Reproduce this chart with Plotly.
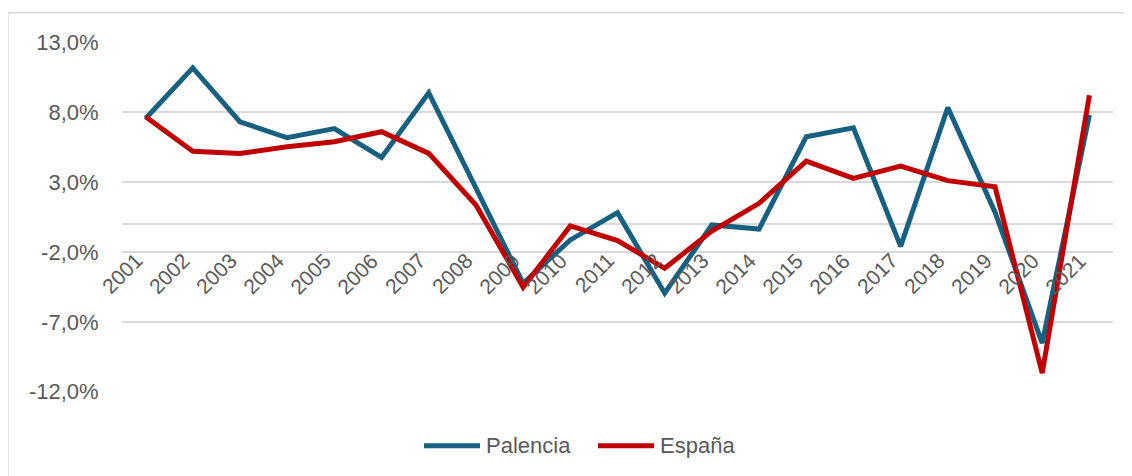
import plotly.graph_objects as go

years = [str(y) for y in range(2001, 2022)]
palencia = [7.55, 11.17, 7.31, 6.17, 6.83, 4.76, 9.38, 2.5, -4.24, -1.14, 0.81, -4.95,
            -0.07, -0.36, 6.24, 6.88, -1.6, 8.33, 0.85, -8.52, 7.79]
espana = [7.67, 5.21, 5.05, 5.52, 5.88, 6.6, 5.05, 1.36, -4.52, -0.14, -1.19, -3.17,
          -0.5, 1.48, 4.5, 3.26, 4.14, 3.1, 2.67, -10.67, 9.21]
y_ticks = [-12, -7, -2, 3, 8, 13]
y_ticktext = ["-12,0%", "-7,0%", "-2,0%", "3,0%", "8,0%", "13,0%"]
series_names = ["Palencia", "España"]
series_colors = ["#17607f", "#c00000"]

FONT = "Liberation Sans"
GREY = "#595959"
GRID = "#d9d9d9"

# page body has an 8px margin; figure is laid out in its own coordinates
L, T, PW, PH = 114, 34, 991, 350
W, H = 1124, 468


def px_x(p):
    return (p - L) / PW


def px_y(p):
    return (T + PH - p) / PH


fig = go.Figure()
for name, vals, col in zip(series_names, [palencia, espana], series_colors):
    fig.add_trace(go.Scatter(x=years, y=vals, name=name, mode="lines",
                             line=dict(color=col, width=5), showlegend=False))

for i, yr in enumerate(years):
    fig.add_annotation(x=i, y=0, xref="x", yref="y", text=yr, showarrow=False,
                       textangle=-45, xanchor="right", yanchor="top",
                       xshift=4, yshift=-22,
                       font=dict(family=FONT, size=21, color=GREY))

# chart area border
fig.add_shape(type="rect", xref="paper", yref="paper",
              x0=px_x(0), x1=px_x(1200), y0=px_y(600), y1=px_y(4.7),
              line=dict(color=GRID, width=1.5), layer="below")

# manual legend
leg_y = px_y(437.7)
leg_items = [(416, 472, 476), (590, 646, 650)]
for (x0, x1, tx), name, col in zip(leg_items, series_names, series_colors):
    fig.add_shape(type="line", xref="paper", yref="paper",
                  x0=px_x(x0), x1=px_x(x1), y0=leg_y, y1=leg_y,
                  line=dict(color=col, width=5))
    fig.add_annotation(x=px_x(tx), y=leg_y, xref="paper", yref="paper",
                       text=name, showarrow=False, xanchor="left", yanchor="middle",
                       font=dict(family=FONT, size=22, color=GREY))

fig.update_layout(
    width=W, height=H,
    margin=dict(l=L, r=W - L - PW, t=T, b=H - T - PH),
    paper_bgcolor="white", plot_bgcolor="white",
    font=dict(family=FONT, size=20, color=GREY),
    showlegend=False,
    xaxis=dict(type="category", range=[-0.5, 20.5], showticklabels=False,
               showgrid=False, zeroline=False, showline=False),
    yaxis=dict(range=[-12.02, 13.02], tickvals=y_ticks, ticktext=y_ticktext,
               showgrid=True, gridcolor=GRID, gridwidth=2,
               zeroline=True, zerolinecolor=GRID, zerolinewidth=2,
               ticks="outside", ticklen=18, tickcolor="rgba(0,0,0,0)",
               tickfont=dict(family=FONT, size=22, color=GREY)),
)

fig.write_html("out.html")
